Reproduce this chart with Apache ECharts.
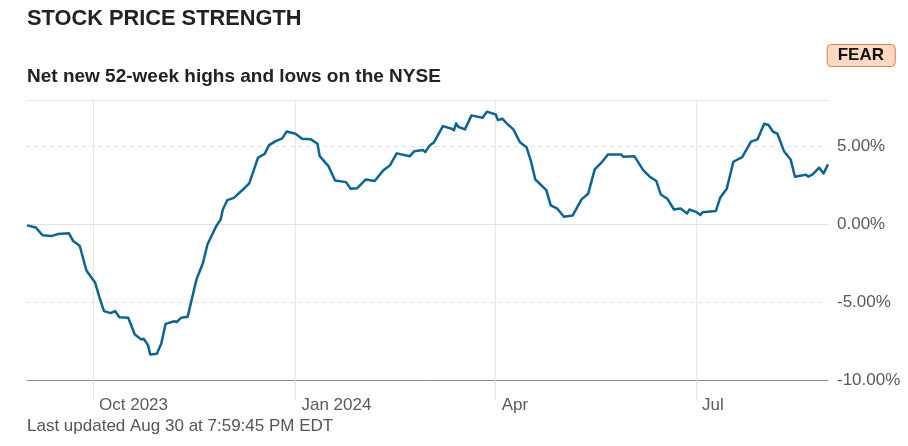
<!DOCTYPE html>
<html><head><meta charset="utf-8">
<script src="https://cdn.jsdelivr.net/npm/echarts@6/dist/echarts.min.js"></script>
<style>html,body{margin:0;padding:0;background:#fff}#c{width:908px;height:446px}</style>
</head><body><div id="c"></div>
<script>
const dates = [
'2023-09-01','2023-09-05','2023-09-08','2023-09-12','2023-09-15','2023-09-20','2023-09-22','2023-09-25','2023-09-28',
'2023-10-02','2023-10-04','2023-10-06','2023-10-09','2023-10-11','2023-10-13','2023-10-17','2023-10-20','2023-10-23','2023-10-24','2023-10-26','2023-10-27','2023-10-30',
'2023-11-01','2023-11-03','2023-11-07','2023-11-08','2023-11-10','2023-11-13','2023-11-17','2023-11-20','2023-11-22','2023-11-26','2023-11-28','2023-11-29',
'2023-12-01','2023-12-04','2023-12-09','2023-12-11','2023-12-15','2023-12-18','2023-12-20','2023-12-23','2023-12-26','2023-12-28',
'2024-01-01','2024-01-04','2024-01-08','2024-01-11','2024-01-12','2024-01-16','2024-01-19','2024-01-24','2024-01-26','2024-01-29',
'2024-02-02','2024-02-06','2024-02-10','2024-02-13','2024-02-16','2024-02-22','2024-02-24','2024-02-28','2024-02-29',
'2024-03-02','2024-03-04','2024-03-08','2024-03-12','2024-03-13','2024-03-14','2024-03-15','2024-03-18','2024-03-21','2024-03-26','2024-03-28',
'2024-04-01','2024-04-02','2024-04-04','2024-04-06','2024-04-09','2024-04-12','2024-04-15','2024-04-17','2024-04-19','2024-04-24','2024-04-26','2024-04-29',
'2024-05-02','2024-05-06','2024-05-10','2024-05-13','2024-05-16','2024-05-19','2024-05-22','2024-05-28','2024-05-29',
'2024-06-03','2024-06-07','2024-06-10','2024-06-13','2024-06-15','2024-06-18','2024-06-21','2024-06-24','2024-06-27','2024-06-28',
'2024-07-01','2024-07-03','2024-07-04','2024-07-10','2024-07-12','2024-07-15','2024-07-18','2024-07-22','2024-07-26','2024-07-29',
'2024-08-01','2024-08-03','2024-08-05','2024-08-07','2024-08-10','2024-08-13','2024-08-15','2024-08-18','2024-08-20','2024-08-21','2024-08-23','2024-08-26','2024-08-28','2024-08-30'
];
const values = [
-0.06,-0.20,-0.69,-0.75,-0.62,-0.56,-1.07,-1.39,-2.96,
-3.75,-4.72,-5.57,-5.70,-5.57,-5.96,-6.00,-7.07,-7.40,-7.35,-7.76,-8.36,-8.32,
-7.67,-6.39,-6.22,-6.28,-6.00,-5.94,-3.54,-2.46,-1.29,-0.11,0.32,0.96,
1.56,1.71,2.36,2.64,4.29,4.54,5.10,5.36,5.53,5.98,
5.83,5.51,5.47,5.19,4.39,3.75,2.83,2.72,2.30,2.32,
2.89,2.79,3.49,3.81,4.57,4.39,4.71,4.78,4.65,
5.08,5.29,6.32,6.15,6.05,6.50,6.28,6.11,7.01,6.86,7.25,
7.07,6.71,6.80,6.50,6.11,5.29,4.97,4.07,2.89,2.21,1.22,1.01,
0.49,0.58,1.61,1.97,3.54,3.97,4.50,4.50,4.35,
4.39,3.49,3.07,2.79,1.93,1.65,0.96,1.03,0.71,0.96,
0.81,0.60,0.79,0.86,1.71,2.30,4.03,4.33,5.32,5.47,
6.47,6.39,5.96,5.83,4.71,4.18,3.07,3.15,3.20,3.07,3.22,3.65,3.28,3.86
];
const xStart = '2023-09-01';
const xEnd = '2024-08-30';
const xTickDates = ['2023-10-01','2024-01-01','2024-04-01','2024-07-01'];
const xTickLabels = ['Oct 2023','Jan 2024','Apr','Jul'];
const yTickValues = [-10,-5,0,5];
const yMin = -10, yMax = 8, yStep = 5;

function ts(s){const p=s.split('-').map(Number);return Date.UTC(p[0],p[1]-1,p[2]);}
const FONT = '"Liberation Sans", Arial, Helvetica, sans-serif';
const tickTs = xTickDates.map(ts);
const chart = echarts.init(document.getElementById('c'), null, {renderer:'canvas'});
chart.setOption({
  animation:false,
  backgroundColor:'#ffffff',
  textStyle:{fontFamily:FONT},
  title:[
    {text:'STOCK PRICE STRENGTH', left:27, top:8, padding:0,
     textStyle:{fontFamily:FONT, fontSize:21.8, fontWeight:'bold', color:'#222222'}},
    {text:'Net new 52-week highs and lows on the NYSE', left:27, top:67, padding:0,
     textStyle:{fontFamily:FONT, fontSize:19, fontWeight:'bold', color:'#222222'}},
    {text:'Last updated Aug 30 at 7:59:45 PM EDT', left:27, top:418, padding:0,
     textStyle:{fontFamily:FONT, fontSize:17, fontWeight:'normal', color:'#555555'}},
    {text:'FEAR', right:13, top:44, padding:[2,11,3,11], backgroundColor:'#fdd9c4', borderColor:'#d5834f', borderWidth:1, borderRadius:4,
     textStyle:{fontFamily:FONT, fontSize:17, fontWeight:'bold', color:'#111111', lineHeight:18}}
  ],
  grid:{left:27, right:80, top:100, bottom:66, containLabel:false, outerBoundsMode:'none'},
  xAxis:[
    {type:'value', min:ts(xStart), max:ts(xEnd), scale:true,
     axisLine:{show:true, onZero:false, lineStyle:{color:'#8c8c8c', width:1}},
     axisTick:{show:true, customValues:tickTs, length:20, lineStyle:{color:'#e6e6e6', width:1}},
     splitLine:{show:true, lineStyle:{color:'#e6e6e6', width:1, type:'solid'}},
     axisLabel:{customValues:tickTs, align:'left', padding:[0,0,0,6], margin:17,
       fontFamily:FONT, fontSize:17, color:'#5a5a5a',
       formatter:function(v){const i=tickTs.indexOf(v);return i>=0?xTickLabels[i]:'';}}},
    {type:'value', position:'top', min:0, max:1, show:true,
     axisLine:{show:true, onZero:false, lineStyle:{color:'#e6e6e6', width:1}},
     axisTick:{show:false}, axisLabel:{show:false}, splitLine:{show:false}}
  ],
  yAxis:{type:'value', position:'right', min:yMin, max:yMax, interval:yStep,
    axisLine:{show:false}, axisTick:{show:false},
    splitLine:{show:true, lineStyle:{color:'#dedede', width:1, type:[4,4]}},
    axisLabel:{margin:9, padding:[3,0,0,0], fontFamily:FONT, fontSize:17, color:'#5a5a5a',
      formatter:function(v){return yTickValues.indexOf(v)>=0 ? v.toFixed(2)+'%' : '';}}},
  series:[{
    type:'line', xAxisIndex:0, yAxisIndex:0,
    data:dates.map((d,i)=>[ts(d), values[i]]),
    showSymbol:false, symbol:'none',
    lineStyle:{color:'#0d6492', width:2.5, join:'round'},
    z:3,
    markLine:{silent:true, symbol:['none','none'], z:1, label:{show:false},
      lineStyle:{color:'#e2e2e2', type:'solid', width:1},
      data:[{yAxis:0}]}
  }]
});
</script></body></html>
